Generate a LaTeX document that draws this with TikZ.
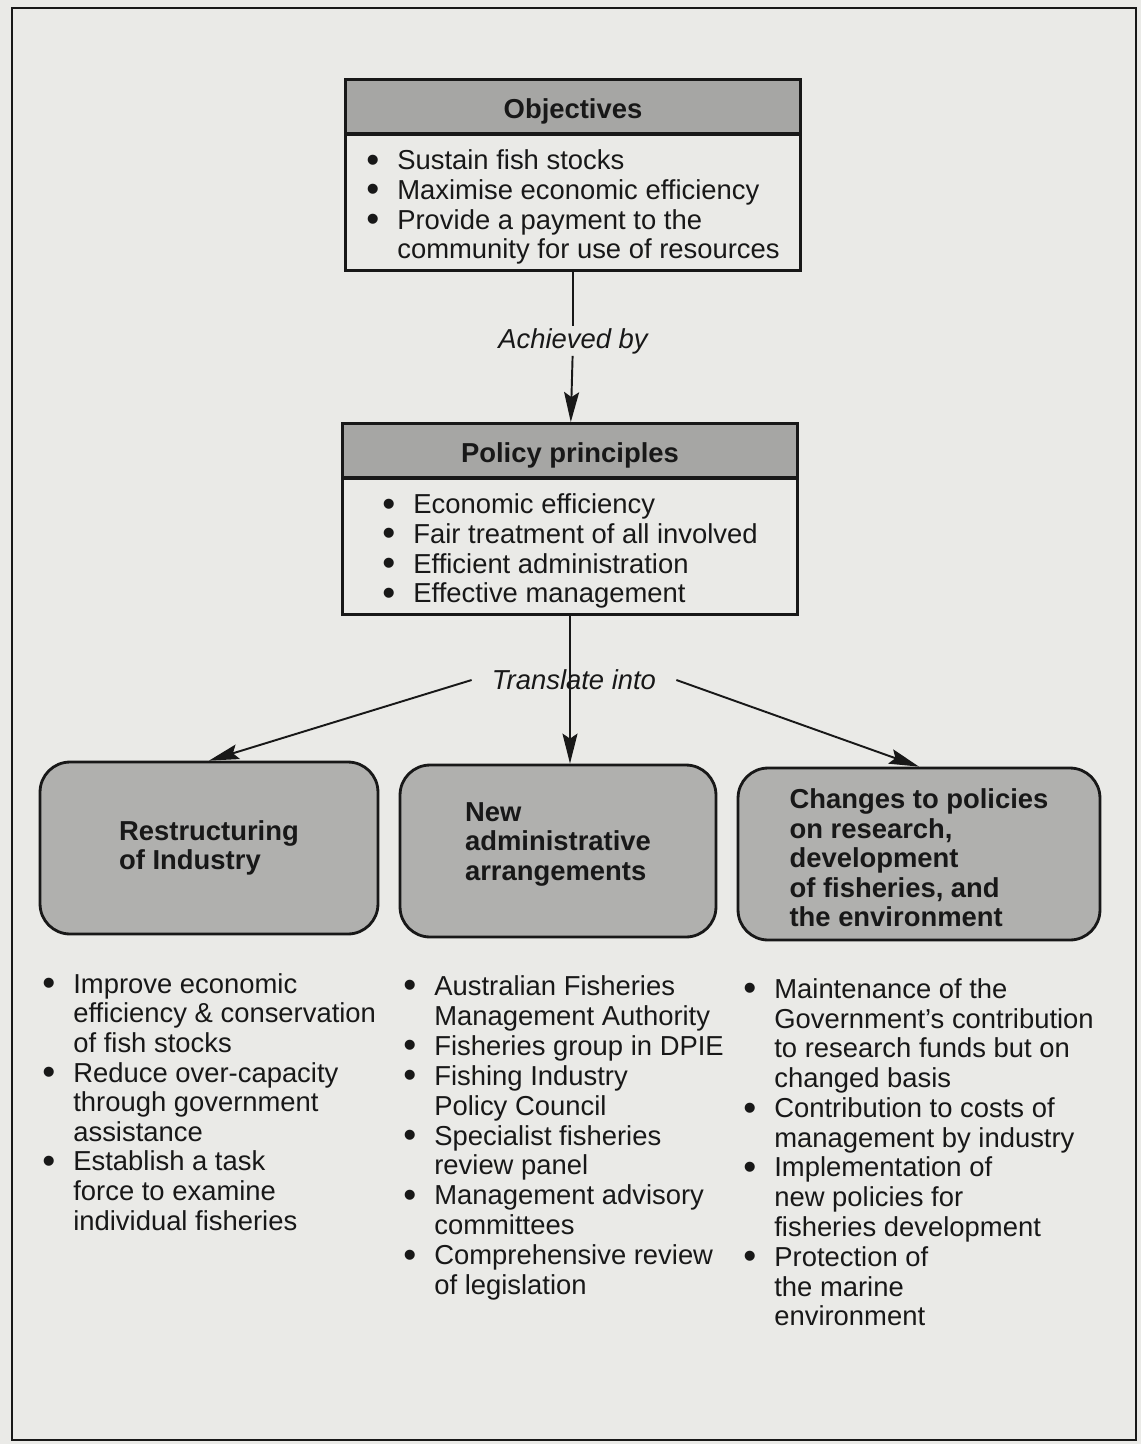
\documentclass[tikz,border=0pt]{standalone}
\usepackage{fontspec}
\setmainfont{Liberation Sans}
\usetikzlibrary{arrows.meta}

\definecolor{paper}{RGB}{234,234,231}
\definecolor{headgray}{RGB}{166,166,164}
\definecolor{boxgray}{RGB}{176,176,174}
\definecolor{ink}{RGB}{24,24,24}
\newcommand{\bl}{\makebox[0.62cm][l]{\raisebox{-0.1em}{\scalebox{1.35}{\textbullet}}}}
\newcommand{\ind}{\hspace*{0.62cm}}
\newcommand{\topgap}{\rule{0pt}{17pt}}

\begin{document}
\begin{tikzpicture}[x=0.02cm, y=-0.02cm, color=ink, font=\fontsize{15.6}{17}\selectfont]
\tikzstyle{head}=[draw, line width=1.6pt, fill=headgray, minimum width=9.1cm, minimum height=1.1cm, text height=17pt, text depth=3.5pt, font=\fontsize{15.6}{17}\selectfont\bfseries]
\tikzstyle{body}=[draw, line width=1.6pt, minimum width=9.1cm, minimum height=2.72cm, align=left]
\tikzstyle{action}=[draw, line width=1.6pt, fill=boxgray, rounded corners=0.6cm, minimum height=3.44cm, align=left, font=\fontsize{15.6}{16.8}\selectfont\bfseries]
\tikzstyle{list}=[anchor=north west, align=left, inner sep=0pt, font=\fontsize{15.6}{16.85}\selectfont]
\tikzstyle{arr}=[line width=1.1pt, -{Stealth[length=0.6cm,width=0.3cm,inset=0.1cm]}]
\fill[paper] (0,0) rectangle (1141,1444);
\draw[line width=1.3pt] (12,8) rectangle (1136,1440);
% objectives and principles
\node[head] (objhead) at (573,107) {Objectives};
\node[body] (objbody) at (573,202) {\topgap\bl Sustain fish stocks\\ \bl Maximise economic efficiency\\ \bl Provide a payment to the\\ \ind community for use of resources};
\node[inner sep=1pt, font=\fontsize{15.6}{17}\selectfont\itshape] (achieved) at (573,341) {Achieved by};
\node[head] (polhead) at (570,451) {Policy principles};
\node[body] (polbody) at (570,546) {\topgap\bl Economic efficiency\\ \bl Fair treatment of all involved\\ \bl Efficient administration\\ \bl Effective management};
\node[inner xsep=0.4cm, font=\fontsize{15.6}{17}\selectfont\itshape] (translate) at (574,680) {Translate into};
% three outcomes
\node[action, minimum width=6.76cm] (restr) at (209,848) {Restructuring\\of Industry};
\node[action, minimum width=6.32cm] (admin) at (558,851) {New\\administrative\\arrangements\rule[-11pt]{0pt}{1pt}};
\node[action, minimum width=7.24cm] (changes) at (919,854) {\rule{0pt}{16pt}Changes to policies\\on research,\\development\\of fisheries, and\\the environment};
\node[list] (restrlist) at (42,973) {\bl Improve economic\\ \ind efficiency \& conservation\\ \ind of fish stocks\\ \bl Reduce over-capacity\\ \ind through government\\ \ind assistance\\ \bl Establish a task\\ \ind force to examine\\ \ind individual fisheries};
\node[list, font=\fontsize{15.6}{17.05}\selectfont] (adminlist) at (403,975) {\bl Australian Fisheries\\ \ind Management Authority\\ \bl Fisheries group in DPIE\\ \bl Fishing Industry\\ \ind Policy Council\\ \bl Specialist fisheries\\ \ind review panel\\ \bl Management advisory\\ \ind committees\\ \bl Comprehensive review\\ \ind of legislation};
\node[list, font=\fontsize{15.6}{16.95}\selectfont] (changeslist) at (743,978) {\bl Maintenance of the\\ \ind Government’s contribution\\ \ind to research funds but on\\ \ind changed basis\\ \bl Contribution to costs of\\ \ind management by industry\\ \bl Implementation of\\ \ind new policies for\\ \ind fisheries development\\ \bl Protection of\\ \ind the marine\\ \ind environment};
\draw[line width=1.1pt] (objbody) -- (achieved);
\draw[arr] (achieved) -- (polhead);
\draw[arr] (polbody) -- (polbody.south |- admin.north);
\draw[arr] (translate.west) -- (restr.north);
\draw[arr] (translate.east) -- (changes.north);
\end{tikzpicture}
\end{document}
